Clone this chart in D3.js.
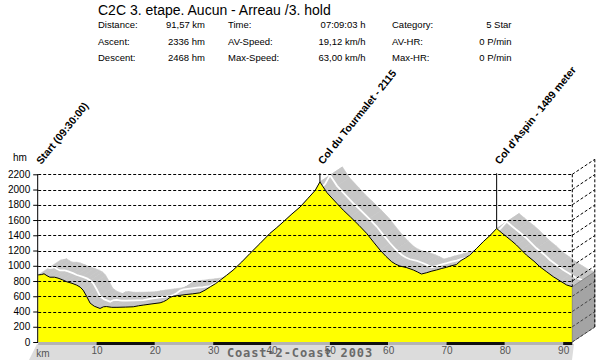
<!DOCTYPE html>
<html>
<head>
<meta charset="utf-8">
<script src="https://cdn.jsdelivr.net/npm/d3@7/dist/d3.min.js"></script>
<style>
html,body{margin:0;padding:0;background:#fff;}
svg{display:block;font-family:"Liberation Sans",Arial,sans-serif;}
</style>
</head>
<body>
<svg id="chart" width="600" height="360"></svg>
<script>
// ---- data ----
const title = "C2C 3. etape. Aucun - Arreau /3. hold";
const statLabels1 = ["Distance:", "Ascent:", "Descent:"];
const statValues1 = ["91,57 km", "2336 hm", "2468 hm"];
const statLabels2 = ["Time:", "AV-Speed:", "Max-Speed:"];
const statValues2 = ["07:09:03 h", "19,12 km/h", "63,00 km/h"];
const statLabels3 = ["Category:", "AV-HR:", "Max-HR:"];
const statValues3 = ["5 Star", "0 P/min", "0 P/min"];

const km = [0,0.6,1.0,1.5,2.0,2.8,3.4,4.2,4.9,5.8,6.6,7.2,7.7,8.3,8.9,9.6,10.6,11.2,11.7,12.6,13.5,15.0,16.3,17.2,18.0,19.5,20.9,21.5,22.0,22.6,23.2,24.3,25.5,26.5,27.7,28.6,29.5,30.4,31.2,32.3,33.4,34.9,36.3,38.0,39.7,40.9,42.0,43.5,44.9,46.2,47.5,48.3,49.5,51.2,52.3,53.5,55.0,56.3,57.5,58.6,59.6,60.6,61.3,62.0,63.2,64.3,65.0,65.7,66.6,67.5,68.3,69.2,70.0,70.8,71.7,72.5,73.2,74.0,75.2,76.3,77.5,78.6,79.5,80.3,81.2,82.0,82.8,83.7,85.0,86.0,87.2,88.3,89.5,90.6,91.57];
const elev = [880,885,895,870,850,850,838,815,790,770,746,720,680,600,510,470,440,462,465,455,455,458,462,475,484,500,514,530,550,585,602,612,624,632,645,680,724,765,811,875,942,1050,1161,1290,1423,1500,1575,1680,1771,1880,1990,2100,1960,1819,1730,1643,1530,1426,1310,1207,1125,1053,1020,997,975,945,920,892,909,930,945,965,980,1000,1015,1070,1100,1141,1230,1316,1400,1489,1430,1381,1325,1272,1210,1141,1060,988,920,857,800,748,725];

const yTickValues = [0,200,400,600,800,1000,1200,1400,1600,1800,2000,2200];
const xTickValues = [10,20,30,40,50,60,70,80,90];
const markerKm = [0, 48.3, 78.6];
const markerLabels = ["Start (09:30:00)", "Col du Tourmalet - 2115", "Col d'Aspin - 1489 meter"];
const footer = "Coast-2-Coast 2003";

// ---- layout ----
const svg = d3.select("#chart");
const x = d3.scaleLinear().domain([0, 91.57]).range([38.2, 572.3]);
const y = d3.scaleLinear().domain([0, 2200]).range([342, 174.3]);
const DX = 22.5, DY = -15;
const pts = km.map((k, i) => [x(k), y(elev[i])]);
const endX = x(91.57), endY = y(elev[elev.length - 1]);

// header
svg.append("text").attr("x", 98).attr("y", 15).attr("font-size", 14).text(title);
const rowsY = [28, 44.5, 60.5];
function col(labels, lx, values, vx) {
  labels.forEach((t, i) => svg.append("text").attr("x", lx).attr("y", rowsY[i]).attr("font-size", 9.5).text(t));
  values.forEach((t, i) => svg.append("text").attr("x", vx).attr("y", rowsY[i]).attr("font-size", 9.5).attr("text-anchor", "end").text(t));
}
col(statLabels1, 98, statValues1, 205);
col(statLabels2, 228, statValues2, 365.5);
col(statLabels3, 392, statValues3, 511.5);

// floor band
svg.append("polygon")
  .attr("points", [[37, 344], [574, 344], [572, 360], [29, 360]].map(p => p.join(",")).join(" "))
  .attr("fill", "#dcdcdc");

// ribbon (3D depth of profile)
const rib = svg.append("g");
for (let i = 0; i < pts.length - 1; i++) {
  const a = pts[i], b = pts[i + 1];
  rib.append("polygon")
    .attr("points", [a, b, [b[0] + DX, b[1] + DY], [a[0] + DX, a[1] + DY]].map(p => p.join(",")).join(" "))
    .attr("fill", "#c6c6c6").attr("stroke", "#c6c6c6").attr("stroke-width", 0.6);
}
const line = d3.line().x(d => x(d[0])).y(d => y(d[1]));
const prof = km.map((k, i) => [k, elev[i]]);
svg.append("path").attr("d", line(prof))
  .attr("transform", `translate(${DX * 0.45},${DY * 0.45})`)
  .attr("fill", "none").attr("stroke", "#fff").attr("stroke-width", 1.8);

// yellow area
const area = d3.area().x(d => x(d[0])).y0(y(0)).y1(d => y(d[1]));
svg.append("path").attr("d", area(prof)).attr("fill", "#ffff00");
svg.append("path").attr("d", line(prof)).attr("fill", "none").attr("stroke", "#000").attr("stroke-width", 1);

// right side face
svg.append("polygon")
  .attr("points", [[endX, endY], [endX + DX, endY + DY], [endX + DX, y(0) + DY], [endX, y(0)]].map(p => p.join(",")).join(" "))
  .attr("fill", "#a4a4a4").attr("stroke", "#777").attr("stroke-width", 0.8);

// grid lines
const grid = svg.append("g").attr("stroke", "#000").attr("stroke-width", 1).attr("stroke-dasharray", "3,2");
yTickValues.filter(v => v > 0).forEach(v => {
  grid.append("line").attr("x1", x(0)).attr("x2", endX).attr("y1", Math.round(y(v)) + 0.5).attr("y2", Math.round(y(v)) + 0.5);
});
yTickValues.forEach(v => {
  grid.append("line").attr("x1", endX).attr("y1", y(v)).attr("x2", endX + DX).attr("y2", y(v) + DY)
    .attr("stroke", v < elev[elev.length - 1] ? "#444" : "#000");
});
grid.append("line").attr("x1", endX).attr("x2", endX).attr("y1", y(2200)).attr("y2", endY);
grid.append("line").attr("x1", endX + DX).attr("x2", endX + DX).attr("y1", y(2200) + DY).attr("y2", y(0) + DY);

// y axis
const yAxis = d3.axisLeft(y).tickValues(yTickValues).tickFormat(d3.format("d")).tickSize(5).tickPadding(3);
const ya = svg.append("g").attr("transform", `translate(${x(0)},0)`).call(yAxis);
ya.select(".domain").remove();
ya.selectAll("text").attr("font-size", 10).attr("font-family", "Liberation Sans, Arial, sans-serif").attr("fill", "#000");
ya.selectAll("line").attr("stroke", "#000");
svg.append("line").attr("x1", x(0) - 0.5).attr("x2", x(0) - 0.5).attr("y1", y(2200)).attr("y2", y(0) + 1).attr("stroke", "#000");
svg.append("text").attr("x", 13).attr("y", 161).attr("font-size", 10).text("hm");

// x axis bar with alternating segments
const segs = d3.range(0, 10).map(i => [i * 10, Math.min((i + 1) * 10, 91.57)]);
segs.forEach((s, i) => {
  svg.append("rect").attr("x", x(s[0])).attr("y", 342).attr("width", x(s[1]) - x(s[0])).attr("height", 3)
    .attr("fill", i % 2 === 1 ? "#111" : "#b4b4b4");
});

// footer watermark
svg.append("text").attr("x", 300).attr("y", 357).attr("text-anchor", "middle")
  .attr("font-size", 12).attr("font-weight", "bold").attr("letter-spacing", 0.9)
  .attr("fill", "#6a6a6a").attr("font-family", "DejaVu Sans Mono, Liberation Mono, monospace").text(footer);

// x axis labels
const xAxis = d3.axisBottom(x).tickValues(xTickValues).tickSize(0).tickPadding(0);
const xa = svg.append("g").attr("transform", `translate(0,347)`).call(xAxis);
xa.select(".domain").remove();
xa.selectAll("text").attr("font-size", 10).attr("font-family", "Liberation Sans, Arial, sans-serif").attr("fill", "#555").attr("dy", "0.71em");
svg.append("text").attr("x", 43).attr("y", 357).attr("text-anchor", "middle").attr("font-size", 10).attr("fill", "#555").text("km");

// markers
markerKm.forEach((k, i) => {
  const idx = km.indexOf(k);
  const px = x(k), py = y(elev[idx]);
  if (i > 0) svg.append("line").attr("x1", px).attr("x2", px).attr("y1", y(2200) - 1).attr("y2", py).attr("stroke", "#000");
  svg.append("text").attr("transform", `translate(${px + 3},${165}) rotate(-51)`)
    .attr("font-size", 10.5).attr("font-weight", "bold").text(markerLabels[i]);
});
</script>
</body>
</html>
